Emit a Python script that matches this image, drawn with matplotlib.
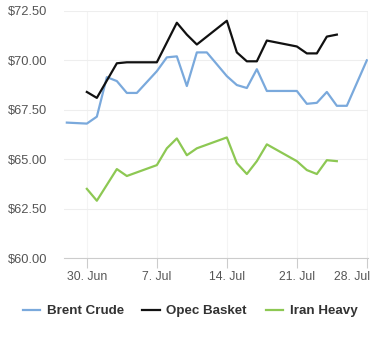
import matplotlib
matplotlib.use('Agg')
import matplotlib.pyplot as plt
from matplotlib.transforms import ScaledTranslation

plt.rcParams['font.family'] = ['Liberation Sans', 'DejaVu Sans']

# day offsets from 30 Jun
brent_days = [-2, 0, 1, 2, 3, 4, 5, 7, 8, 9, 10, 11, 12, 13, 14, 15, 16, 17, 18, 19, 21, 22, 23, 24, 25, 26, 28]
brent = [66.85, 66.8, 67.15, 69.15, 68.95, 68.35, 68.35, 69.45, 70.15, 70.2, 68.7, 70.4, 70.4, 69.8, 69.2,
         68.75, 68.6, 69.55, 68.45, 68.45, 68.45, 67.8, 67.85, 68.4, 67.7, 67.7, 70.0]

opec_days = [0, 1, 3, 4, 7, 9, 10, 11, 14, 15, 16, 17, 18, 21, 22, 23, 24, 25]
opec = [68.4, 68.1, 69.85, 69.9, 69.9, 71.9, 71.3, 70.8, 72.0, 70.4, 69.95, 69.95, 71.0, 70.7, 70.35, 70.35,
        71.2, 71.3]

iran_days = [0, 1, 3, 4, 7, 8, 9, 10, 11, 14, 15, 16, 17, 18, 21, 22, 23, 24, 25]
iran = [63.5, 62.9, 64.5, 64.15, 64.7, 65.55, 66.05, 65.2, 65.55, 66.1, 64.8, 64.25, 64.9, 65.75, 64.9,
        64.45, 64.25, 64.95, 64.9]

tick_days = [0, 7, 14, 21, 28]
tick_labels = ['30. Jun', '7. Jul', '14. Jul', '21. Jul', '28. Jul']
y_ticks = [60, 62.5, 65, 67.5, 70, 72.5]

fig = plt.figure(figsize=(3.8, 3.4), dpi=100)
ax = fig.add_axes([0.168, 0.241, 0.800, 0.727])

ax.plot(brent_days, brent, color='#7aa9dc', lw=1.6, label='Brent Crude')
ax.plot(opec_days, opec, color='#111111', lw=1.6, label='Opec Basket')
ax.plot(iran_days, iran, color='#8dc853', lw=1.6, label='Iran Heavy')

ax.set_xlim(-2.3, 28.1)
ax.set_ylim(60, 72.5)
ax.set_yticks(y_ticks)
ax.set_yticklabels(['${:.2f}'.format(v) for v in y_ticks])
ax.set_xticks(tick_days)
ax.set_xticklabels(tick_labels)

ax.yaxis.grid(True, color='#eeeeee', lw=0.8)
ax.xaxis.grid(True, color='#f4f4f4', lw=0.8)
ax.set_axisbelow(True)
for s in ['top', 'right', 'left']:
    ax.spines[s].set_visible(False)
ax.spines['bottom'].set_color('#cccccc')
ax.tick_params(axis='y', length=0, pad=12, labelsize=9.3, labelcolor='#555555')
ax.tick_params(axis='x', length=7, color='#cccccc', labelsize=8.8, labelcolor='#555555', pad=2)

# keep last label inside the figure, as the original does
last = ax.get_xticklabels()[-1]
last.set_transform(last.get_transform() + ScaledTranslation(-0.15, 0, fig.dpi_scale_trans))

leg = fig.legend(loc='center', bbox_to_anchor=(0.5, 0.085), ncol=3, frameon=False,
                 prop={'size': 9.6, 'weight': 'bold'}, handlelength=1.3, columnspacing=1.4,
                 handletextpad=0.5)
for t in leg.get_texts():
    t.set_color('#333333')

fig.savefig('out.png', dpi=100, facecolor='white')
